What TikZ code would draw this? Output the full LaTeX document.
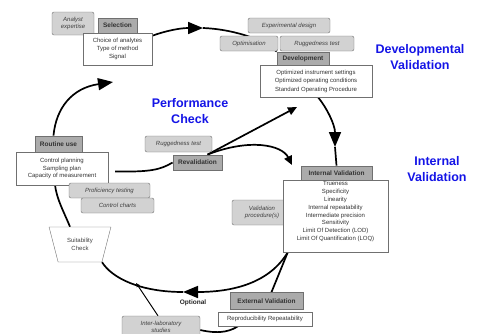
\documentclass[tikz,border=0pt]{standalone}
\usepackage{fontspec}
\setmainfont{Liberation Sans}
\usetikzlibrary{arrows.meta,shapes.geometric,backgrounds}
\definecolor{phaseblue}{HTML}{1414E6}
\definecolor{subgray}{HTML}{D2D2D2}
\definecolor{stagegray}{HTML}{ABABAB}
\definecolor{edgegray}{HTML}{707070}
\tikzset{
  stagebox/.style={draw=edgegray,fill=stagegray,line width=0.8pt,inner sep=0pt,font=\fontsize{6.5}{7.5}\selectfont\bfseries,text=black!80},
  listbox/.style={draw=edgegray,fill=white,inner sep=0pt,align=center,text=black!80},
  subbox/.style={draw=edgegray,fill=subgray,rounded corners=2pt,inner sep=0pt,align=center,font=\fontsize{6}{7.5}\selectfont\itshape,text=black!75},
  phaselabel/.style={text=phaseblue,align=center,font=\fontsize{12.5}{16}\selectfont\bfseries},
  cyclepath/.style={line width=1.7pt},
  cycletip/.style={-{Triangle[length=15pt,width=12pt]}},
  linktip/.style={-{Triangle[length=9pt,width=8pt]}},
  thintip/.style={-{Triangle[length=4pt,width=3.5pt]},line width=1pt}
}

\begin{document}
\begin{tikzpicture}[x=1pt,y=-1pt]
\useasboundingbox (0,0) rectangle (482,333);
% selection
\node[subbox,minimum width=42pt,minimum height=23pt] (analyst) at (73,23.5) {Analyst\\expertise};
\node[stagebox,minimum width=39pt,minimum height=15pt] (selection) at (117.5,25.5) {Selection};
\node[listbox,minimum width=69pt,minimum height=32pt,font=\fontsize{6}{8}\selectfont] (selbox) at (117.5,49) {Choice of analytes\\Type of method\\Signal};
% development
\node[subbox,minimum width=82pt,minimum height=15pt] (expdesign) at (289,25.5) {Experimental design};
\node[subbox,minimum width=58pt,minimum height=15pt] (optim) at (249,43.5) {Optimisation};
\node[subbox,minimum width=74pt,minimum height=15pt] (rugged) at (317,43.5) {Ruggedness test};
\node[stagebox,minimum width=52pt,minimum height=13pt] (develop) at (303,58.5) {Development};
\node[listbox,minimum width=112pt,minimum height=32pt,font=\fontsize{6}{8.5}\selectfont] (devbox) at (316,81) {Optimized instrument settings\\Optimized operating conditions\\Standard Operating Procedure};
% routine use
\node[stagebox,minimum width=47pt,minimum height=16pt] (routine) at (58.5,144) {Routine use};
\node[listbox,minimum width=92pt,minimum height=33pt,font=\fontsize{6}{7.5}\selectfont] (routbox) at (62,168.5) {Control planning\\Sampling plan\\Capacity of measurement};
\node[subbox,minimum width=81pt,minimum height=15pt] (profic) at (109.5,190.5) {Proficiency testing};
\node[subbox,minimum width=73pt,minimum height=15pt] (charts) at (117.5,205.5) {Control charts};
\node[draw=edgegray,fill=white,trapezium,trapezium angle=66,shape border rotate=180,trapezium stretches=true,minimum width=62pt,minimum height=35pt,inner sep=0pt,align=center,font=\fontsize{6}{7.5}\selectfont,text=black!75] (suit) at (80,244.5) {Suitability\\Check};
% revalidation
\node[subbox,minimum width=67pt,minimum height=16pt] (rugged2) at (178.5,144) {Ruggedness test};
\node[stagebox,minimum width=49pt,minimum height=15pt] (reval) at (197.5,162.5) {Revalidation};
% internal validation
\node[subbox,minimum width=60pt,minimum height=25pt] (validproc) at (262,212.5) {Validation\\procedure(s)};
\node[stagebox,minimum width=71pt,minimum height=14pt] (intval) at (336.5,173) {Internal Validation};
\node[listbox,minimum width=105pt,minimum height=72pt,font=\fontsize{6}{7.9}\selectfont] (intbox) at (335.5,216) {Trueness\\Specificity\\Linearity\\Internal repeatability\\Intermediate precision\\Sensitivity\\Limit Of Detection (LOD)\\Limit Of Quantification (LOQ)\\[2pt]};
% external validation
\node[font=\fontsize{6.5}{7.5}\selectfont\bfseries,text=black!85] (optional) at (193,303) {Optional};
\node[stagebox,minimum width=73pt,minimum height=17pt] (extval) at (266.5,301) {External Validation};
\node[listbox,minimum width=94pt,minimum height=14pt,font=\fontsize{6}{7.5}\selectfont] (extbox) at (265,319) {Reproducibility Repeatability};
\node[subbox,minimum width=78pt,minimum height=22pt] (interlab) at (161,327) {Inter-laboratory\\studies};
% phase labels
\node[phaselabel] (devlabel) at (420,57.5) {Developmental\\Validation};
\node[phaselabel] (perflabel) at (190,111.5) {Performance\\Check};
\node[phaselabel] (intlabel) at (437,169.5) {Internal\\Validation};
% connectors
\coordinate (toptip) at (203,28);
\coordinate (righttip) at (335,147);
\coordinate (bottip) at (183,292);
\coordinate (lefttip) at (113,82);
\coordinate (uptip) at (297,107);
\coordinate (midtip) at (292,165);
\coordinate (arcpt) at (136,283);
\begin{scope}[on background layer]
\draw[cyclepath,cycletip] ([yshift=-3pt]selbox.north east) .. controls (165,31) and (180,28) .. (toptip);
\draw[cyclepath] (toptip) .. controls (230,29) and (262,38) .. (develop.north west);
\draw[cyclepath,cycletip] ([xshift=2pt]devbox.south) .. controls (327,108) and (335,125) .. (righttip);
\draw[cyclepath] (righttip) -- (intval.north);
\draw[cyclepath,cycletip] ([xshift=5pt]intbox.south west) .. controls (270,282) and (235,292) .. (bottip);
\draw[cyclepath] (bottip) .. controls (140,292) and (112,278) .. (suit.top left corner);
\draw[cyclepath] ([xshift=-10pt]suit.north) .. controls (64,212) and (57,200) .. ([xshift=-7pt]routbox.south);
\draw[cyclepath,cycletip] ([xshift=-5pt]routine.north) .. controls (56,108) and (72,88) .. (lefttip);
\draw[cyclepath] ([shift={(7pt,-3pt)}]routbox.east) .. controls (150,172) and (160,170) .. (reval.west);
\draw[cyclepath,linktip] ([xshift=10pt]reval.north) -- (uptip);
\draw[cyclepath,linktip] ([xshift=10pt]reval.north) .. controls (250,138) and (282,145) .. (midtip);
\draw[cyclepath] ([xshift=5pt]extval.north) -- ([xshift=5pt]intbox.south west);
\draw[thintip] ([xshift=-3pt]interlab.north) .. controls (148,300) .. (arcpt);
\draw[cyclepath] ([yshift=-3pt]interlab.east) .. controls (222,335) and (232,330) .. ([xshift=-27pt]extbox.south);
\end{scope}
\end{tikzpicture}
\end{document}
